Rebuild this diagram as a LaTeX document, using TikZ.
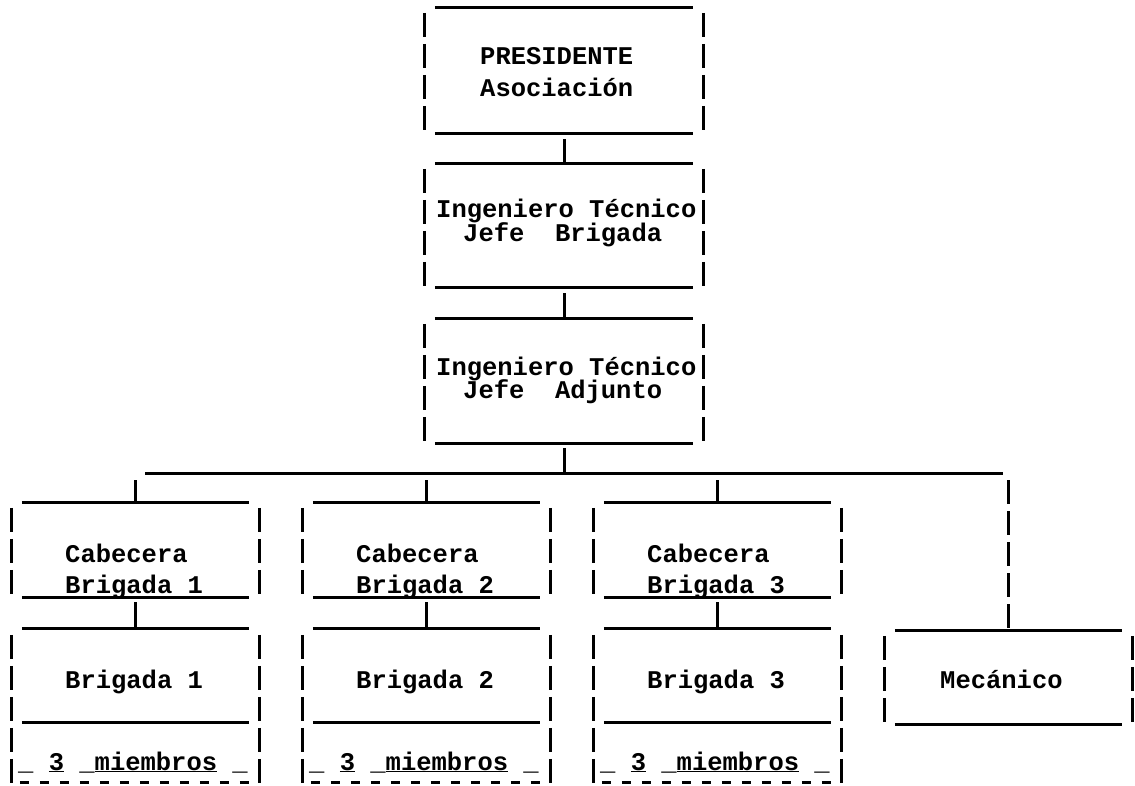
\documentclass[tikz,border=0pt]{standalone}
\usepackage{fontspec}
\newfontfamily\tw{Liberation Mono}
\begin{document}
\begin{tikzpicture}[x=1pt,y=-1pt,
  hl/.style={line width=3pt},
  vl/.style={line width=3pt, dash pattern=on 24pt off 7pt},
  box/.style={draw=none, inner sep=0pt, rectangle},
  txt/.style={inner sep=0pt, anchor=base west, font=\tw\bfseries\fontsize{25.5}{25.5}\selectfont},
]
\useasboundingbox[fill=white] (0,0) rectangle (1135,786);
\newcommand\tbox[1]{%
  \draw[hl] ([xshift=10pt]#1.north west) -- ([xshift=-10pt]#1.north east);
  \draw[hl] ([xshift=10pt]#1.south west) -- ([xshift=-10pt]#1.south east);
  \draw[vl] ([yshift=-5pt]#1.north west) -- (#1.south west);
  \draw[vl] ([yshift=-5pt]#1.north east) -- (#1.south east);}
% top chain
\node[box, minimum width=278pt, minimum height=125pt] (p) at (564,70.5) {};
\node[box, minimum width=278pt, minimum height=123pt] (it1) at (564,225.5) {};
\node[box, minimum width=278pt, minimum height=124pt] (it2) at (564,381) {};
\tbox{p}\tbox{it1}\tbox{it2}
\node[txt] (tp1) at (480,65) {PRESIDENTE};
\node[txt] (tp2) at (480,97) {Asociación};
\node[txt] (ta1) at (436,218) {Ingeniero Técnico};
\node[txt] (ta2) at (463,242) {Jefe\ \ Brigada};
\node[txt] (tb1) at (436,375) {Ingeniero Técnico};
\node[txt] (tb2) at (463,398) {Jefe\ \ Adjunto};
\draw[hl] ([yshift=-6pt]p.south) -- (it1.north);
\draw[hl] ([yshift=-6pt]it1.south) -- (it2.north);
% bus
\coordinate (busL) at (145,473);
\coordinate (busR) at (1003,473);
\draw[hl] (busL) -- (busR);
\draw[hl] ([yshift=-5pt]it2.south) -- (it2.south |- busL);
% brigade columns
\foreach \i in {1,2,3} {
  \pgfmathsetmacro\xo{12+291*(\i-1)}
  \node[box, minimum width=247pt, minimum height=94pt] (c\i) at (\xo+123.5,550) {};
  \node[box, minimum width=247pt, minimum height=93pt] (b\i) at (\xo+123.5,675.5) {};
  \tbox{c\i}
  \draw[hl] ([xshift=10pt]b\i.north west) -- ([xshift=-10pt]b\i.north east);
  \draw[hl] ([xshift=10pt]b\i.south west) -- ([xshift=-10pt]b\i.south east);
  \draw[vl] ([yshift=-6pt]b\i.north west) -- ([yshift=-64pt]b\i.south west);
  \draw[vl] ([yshift=-6pt]b\i.north east) -- ([yshift=-64pt]b\i.south east);
  \draw[hl, dash pattern=on 9pt off 11pt] ([xshift=8pt,yshift=-60pt]b\i.south west) -- ([xshift=-8pt,yshift=-60pt]b\i.south east);
  \draw[hl] ([yshift=-7pt]c\i.north |- busL) -- (c\i.north);
  \draw[hl] ([yshift=-5pt]c\i.south) -- (b\i.north);
  \node[txt] (cc\i) at (\xo+53,562) {Cabecera};
  \node[txt] (cb\i) at (\xo+53,593) {Brigada \i};
  \node[txt] (bb\i) at (\xo+53,688) {Brigada \i};
  \node[txt] (mm\i) at (\xo+6,770) {\_ \underline{3} \_\underline{miembros} \_};
}
% mecanico
\node[box, minimum width=247pt, minimum height=93pt] (mec) at (1008.5,677.5) {};
\tbox{mec}
\draw[vl] ([yshift=-7pt]mec.north |- busL) -- (mec.north);
\node[txt] (tm) at (940,688) {Mecánico};
\end{tikzpicture}
\end{document}
